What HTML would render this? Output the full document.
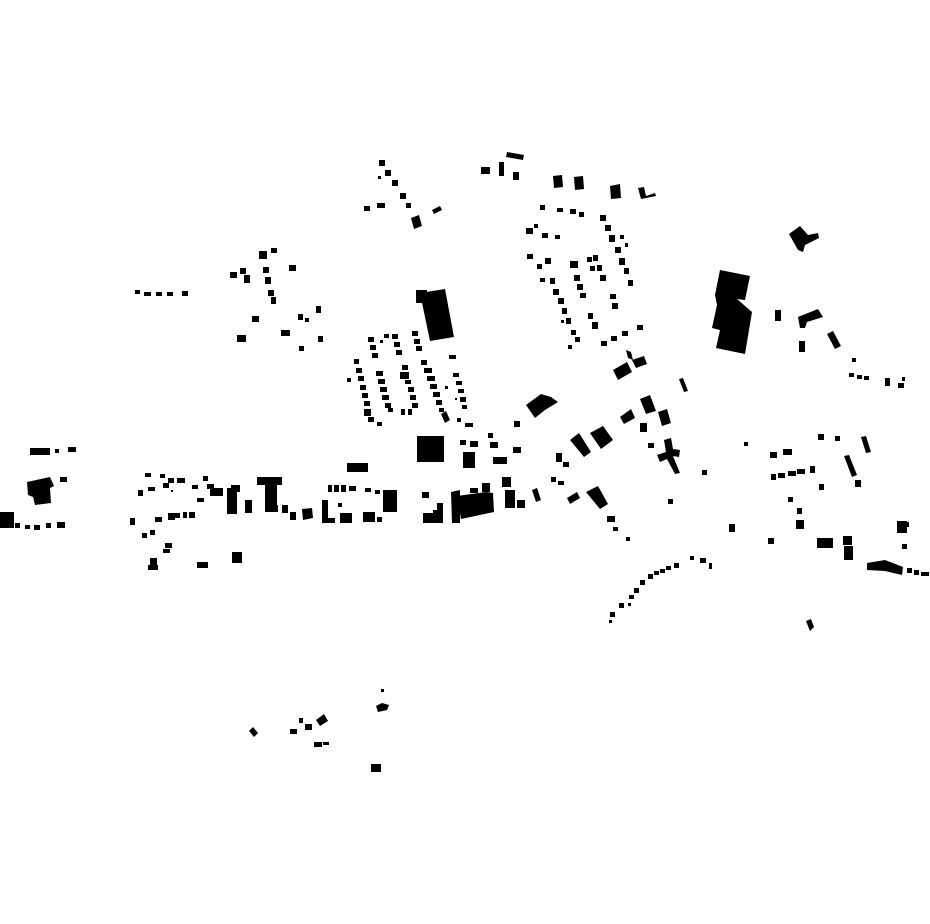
<!DOCTYPE html>
<html><head><meta charset="utf-8"><style>html,body{margin:0;padding:0;background:#fff}svg{display:block}</style></head>
<body>
<svg width="930" height="924" viewBox="0 0 930 924" xmlns="http://www.w3.org/2000/svg" fill="#000">
<!-- top center diagonal -->
<rect x="379" y="160" width="6" height="6"/><rect x="385" y="170" width="6" height="6"/><rect x="392" y="180" width="6" height="6"/><rect x="400" y="193" width="6" height="6"/><rect x="406" y="203" width="5" height="5"/>
<polygon points="411,218 419,215 422,226 414,229"/><rect x="364" y="206" width="6" height="5"/><rect x="377" y="203" width="8" height="5"/><polygon points="432,210 440,206 442,210 434,214"/><rect x="378" y="176" width="3" height="3"/>
<!-- top row -->
<rect x="481" y="167" width="9" height="7"/><rect x="499" y="162" width="5" height="14"/><polygon points="507,152 524,155 523,160 506,157"/><rect x="513" y="172" width="6" height="8"/>
<polygon points="553,176 562,175 563,187 554,188"/><polygon points="574,177 583,176 584,189 575,190"/><polygon points="610,186 620,184 621,198 611,199"/><polygon points="638,188 644,187 646,196 655,193 656,196 641,199"/>
<!-- cluster 520-660 -->
<rect x="540" y="205" width="5" height="5"/><rect x="557" y="208" width="6" height="4"/><rect x="570" y="209" width="6" height="5"/><rect x="579" y="212" width="5" height="5"/>
<rect x="526" y="228" width="7" height="6"/><rect x="534" y="224" width="4" height="4"/><rect x="542" y="233" width="6" height="5"/><rect x="555" y="235" width="5" height="4"/>
<rect x="600" y="215" width="6" height="6"/><rect x="605" y="225" width="6" height="6"/><rect x="609" y="235" width="6" height="7"/><rect x="615" y="247" width="6" height="6"/><rect x="619" y="258" width="6" height="7"/><rect x="624" y="268" width="5" height="6"/><rect x="628" y="280" width="5" height="6"/><rect x="620" y="235" width="4" height="4"/><rect x="625" y="243" width="3" height="4"/>
<rect x="527" y="254" width="6" height="5"/><rect x="537" y="264" width="5" height="5"/><rect x="545" y="258" width="6" height="6"/><rect x="540" y="278" width="5" height="4"/><rect x="550" y="278" width="5" height="6"/><rect x="553" y="289" width="6" height="6"/><rect x="558" y="298" width="6" height="6"/><rect x="562" y="308" width="5" height="6"/><rect x="566" y="318" width="5" height="6"/><rect x="571" y="330" width="5" height="5"/><rect x="561" y="320" width="3" height="3"/><rect x="568" y="345" width="4" height="4"/><rect x="575" y="337" width="5" height="5"/>
<rect x="570" y="261" width="8" height="7"/><rect x="574" y="275" width="6" height="6"/><rect x="577" y="284" width="6" height="6"/><rect x="580" y="293" width="6" height="5"/>
<rect x="587" y="257" width="5" height="5"/><rect x="593" y="255" width="5" height="6"/><rect x="590" y="266" width="5" height="5"/><rect x="597" y="265" width="5" height="6"/><rect x="600" y="275" width="6" height="6"/>
<rect x="610" y="294" width="6" height="5"/><rect x="612" y="303" width="6" height="6"/><rect x="588" y="313" width="5" height="6"/><rect x="592" y="322" width="6" height="7"/>
<rect x="601" y="341" width="6" height="5"/><rect x="611" y="336" width="6" height="5"/><rect x="622" y="331" width="6" height="5"/><rect x="637" y="325" width="6" height="5"/>
<polygon points="626,350 631,352 633,360 628,358"/><polygon points="632,360 644,356 647,364 636,368"/><polygon points="613,370 627,362 632,372 618,380"/>
<!-- big building right -->
<polygon points="720,270 750,276 745,300 737,299 752,312 745,354 716,348 720,330 712,328 717,305 715,295"/>
<polygon points="789,234 800,226 808,235 818,233 819,238 805,245 803,252 798,250"/>
<rect x="775" y="310" width="6" height="11"/><polygon points="798,317 818,309 823,317 807,322 805,328 800,328"/><rect x="799" y="341" width="6" height="11"/><polygon points="827,334 833,331 841,346 835,349"/>
<rect x="852" y="358" width="4" height="4"/><rect x="849" y="373" width="5" height="4"/><rect x="857" y="375" width="5" height="4"/><rect x="864" y="376" width="5" height="4"/><rect x="885" y="378" width="5" height="8"/><rect x="898" y="383" width="6" height="5"/><rect x="902" y="377" width="3" height="4"/>
<polygon points="679,379 683,378 688,391 684,392"/>
<!-- left top cluster -->
<rect x="135" y="290" width="5" height="4"/><rect x="144" y="292" width="7" height="4"/><rect x="156" y="292" width="6" height="4"/><rect x="167" y="292" width="6" height="4"/><rect x="182" y="291" width="6" height="5"/>
<rect x="259" y="251" width="8" height="8"/><rect x="271" y="248" width="6" height="5"/><rect x="263" y="267" width="6" height="6"/><rect x="265" y="277" width="6" height="7"/><rect x="268" y="290" width="6" height="6"/><rect x="271" y="297" width="5" height="7"/>
<rect x="230" y="272" width="7" height="6"/><rect x="240" y="268" width="6" height="6"/><rect x="244" y="275" width="6" height="8"/><rect x="289" y="265" width="7" height="6"/><rect x="252" y="316" width="7" height="6"/><rect x="281" y="330" width="9" height="6"/><rect x="237" y="335" width="9" height="7"/><rect x="298" y="314" width="5" height="6"/><rect x="305" y="318" width="4" height="4"/><rect x="316" y="306" width="5" height="7"/><rect x="318" y="336" width="5" height="6"/><rect x="299" y="346" width="5" height="5"/>
<!-- center cluster -->
<rect x="416" y="290" width="11" height="13"/><polygon points="420,293 445,289 454,337 430,341"/>
<rect x="354" y="359" width="5" height="5"/><rect x="356" y="368" width="6" height="5"/><rect x="358" y="376" width="6" height="5"/><rect x="360" y="385" width="6" height="5"/><rect x="362" y="393" width="6" height="5"/><rect x="364" y="401" width="6" height="5"/><rect x="364" y="409" width="7" height="7"/><rect x="368" y="417" width="6" height="5"/><rect x="377" y="422" width="5" height="4"/><rect x="347" y="378" width="4" height="4"/>
<rect x="368" y="337" width="6" height="5"/><rect x="370" y="345" width="6" height="5"/><rect x="372" y="353" width="6" height="5"/><rect x="376" y="371" width="7" height="5"/><rect x="378" y="379" width="7" height="5"/><rect x="380" y="387" width="7" height="5"/><rect x="382" y="395" width="7" height="5"/><rect x="385" y="403" width="6" height="5"/><rect x="388" y="408" width="5" height="4"/><rect x="380" y="340" width="3" height="3"/><rect x="384" y="334" width="5" height="4"/>
<rect x="392" y="334" width="6" height="5"/><rect x="394" y="342" width="6" height="5"/><rect x="396" y="350" width="6" height="5"/>
<rect x="402" y="365" width="6" height="5"/><rect x="400" y="372" width="9" height="7"/><rect x="405" y="380" width="6" height="4"/><rect x="408" y="387" width="6" height="5"/><rect x="410" y="395" width="6" height="5"/><rect x="412" y="403" width="6" height="5"/><rect x="401" y="409" width="4" height="6"/><rect x="408" y="409" width="4" height="6"/>
<rect x="412" y="331" width="6" height="5"/><rect x="414" y="339" width="6" height="5"/><rect x="416" y="346" width="6" height="5"/><rect x="421" y="360" width="6" height="5"/><rect x="424" y="368" width="8" height="5"/><rect x="427" y="376" width="8" height="5"/><rect x="430" y="384" width="7" height="5"/><rect x="433" y="392" width="7" height="5"/><rect x="436" y="400" width="6" height="5"/><rect x="439" y="408" width="5" height="4"/><rect x="445" y="386" width="3" height="3"/>
<rect x="449" y="355" width="7" height="4"/><rect x="453" y="373" width="6" height="4"/><rect x="456" y="381" width="6" height="4"/><rect x="458" y="389" width="6" height="4"/><rect x="460" y="397" width="6" height="5"/><rect x="462" y="405" width="5" height="4"/><rect x="455" y="398" width="2" height="2"/>
<polygon points="441,414 446,411 450,420 445,423"/><rect x="457" y="418" width="4" height="4"/><rect x="465" y="423" width="8" height="4"/>
<!-- big square and nearby -->
<rect x="417" y="436" width="27" height="26"/><rect x="460" y="440" width="6" height="5"/><rect x="470" y="441" width="8" height="6"/><rect x="490" y="442" width="8" height="6"/><rect x="513" y="447" width="8" height="6"/><rect x="463" y="452" width="12" height="16"/><rect x="493" y="457" width="14" height="7"/><rect x="488" y="433" width="5" height="5"/><rect x="514" y="421" width="6" height="6"/>
<rect x="347" y="463" width="21" height="9"/>
<!-- main street -->
<rect x="145" y="473" width="6" height="4"/><rect x="160" y="474" width="5" height="4"/><rect x="163" y="483" width="6" height="5"/><rect x="148" y="487" width="7" height="4"/><rect x="138" y="490" width="5" height="6"/><rect x="168" y="478" width="6" height="5"/><rect x="177" y="478" width="8" height="5"/><rect x="171" y="490" width="2" height="2"/>
<rect x="192" y="485" width="6" height="4"/><rect x="203" y="476" width="5" height="5"/><rect x="207" y="484" width="7" height="5"/><rect x="210" y="488" width="13" height="8"/><rect x="197" y="498" width="7" height="4"/>
<rect x="227" y="488" width="10" height="26"/><rect x="231" y="485" width="9" height="7"/><rect x="245" y="500" width="7" height="13"/>
<rect x="257" y="477" width="25" height="8"/><rect x="265" y="484" width="12" height="21"/><rect x="265" y="505" width="13" height="7"/><rect x="282" y="505" width="6" height="8"/><rect x="290" y="512" width="6" height="8"/><polygon points="302,509 312,508 313,518 303,520"/>
<rect x="322" y="500" width="6" height="23"/><rect x="328" y="518" width="7" height="5"/><rect x="338" y="503" width="4" height="4"/><rect x="340" y="513" width="12" height="10"/><rect x="363" y="512" width="12" height="10"/><rect x="377" y="517" width="5" height="5"/>
<rect x="328" y="485" width="4" height="7"/><rect x="334" y="485" width="5" height="7"/><rect x="341" y="485" width="5" height="7"/><rect x="349" y="486" width="7" height="5"/><rect x="365" y="488" width="6" height="4"/><rect x="375" y="490" width="5" height="4"/><rect x="383" y="490" width="14" height="22"/>
<rect x="422" y="492" width="7" height="6"/><rect x="423" y="513" width="10" height="10"/><rect x="433" y="510" width="10" height="13"/><rect x="437" y="503" width="6" height="9"/>
<polygon points="451,492 460,490 460,523 452,523"/><polygon points="457,496 486,492 493,493 494,512 461,519"/><rect x="482" y="483" width="8" height="9"/><rect x="470" y="488" width="8" height="5"/>
<rect x="502" y="477" width="9" height="10"/><rect x="505" y="490" width="10" height="18"/><rect x="517" y="500" width="8" height="8"/><polygon points="532,490 537,488 541,500 536,502"/>
<rect x="130" y="518" width="5" height="7"/><rect x="155" y="517" width="7" height="5"/><rect x="168" y="513" width="7" height="7"/><rect x="175" y="513" width="5" height="5"/><rect x="183" y="512" width="4" height="6"/><rect x="189" y="512" width="6" height="6"/>
<rect x="142" y="533" width="5" height="5"/><rect x="150" y="530" width="5" height="5"/><rect x="165" y="543" width="7" height="5"/><rect x="163" y="549" width="7" height="4"/><rect x="150" y="558" width="7" height="7"/><rect x="148" y="565" width="10" height="5"/><rect x="197" y="562" width="11" height="6"/><rect x="232" y="552" width="10" height="11"/>
<!-- far left -->
<rect x="30" y="448" width="20" height="7"/><rect x="55" y="449" width="4" height="4"/><rect x="68" y="447" width="8" height="5"/><rect x="60" y="477" width="7" height="5"/>
<polygon points="27,482 50,477 54,486 50,488 51,503 35,505 33,497 28,495"/>
<rect x="0" y="512" width="14" height="16"/><rect x="15" y="523" width="5" height="5"/><rect x="25" y="525" width="5" height="4"/><rect x="34" y="525" width="6" height="5"/><rect x="46" y="523" width="5" height="5"/><rect x="57" y="522" width="8" height="6"/>
<!-- right of center -->
<polygon points="526,405 541,394 551,397 558,402 545,410 535,418"/>
<polygon points="590,433 603,426 613,440 601,449"/><polygon points="570,440 579,433 591,452 584,457"/><rect x="556" y="453" width="6" height="9"/><rect x="563" y="462" width="6" height="5"/><rect x="551" y="477" width="5" height="5"/><rect x="558" y="481" width="6" height="4"/>
<polygon points="640,399 650,395 656,411 646,414"/><polygon points="658,412 667,409 671,423 662,426"/><polygon points="620,417 631,409 635,418 624,424"/><rect x="640" y="423" width="7" height="9"/><rect x="648" y="443" width="6" height="5"/>
<polygon points="664,440 671,438 673,449 680,450 679,457 673,456 680,473 675,474 667,459 660,462 657,455 666,452"/>
<rect x="744" y="442" width="4" height="4"/><rect x="702" y="470" width="5" height="5"/><rect x="668" y="499" width="5" height="5"/>
<polygon points="567,498 577,492 580,498 570,504"/><polygon points="586,492 598,486 608,504 600,509"/><rect x="607" y="516" width="8" height="6"/><rect x="613" y="527" width="5" height="4"/><rect x="626" y="537" width="4" height="4"/>
<rect x="729" y="524" width="6" height="8"/><rect x="768" y="538" width="6" height="6"/>
<!-- right cluster -->
<rect x="770" y="452" width="7" height="6"/><rect x="783" y="449" width="9" height="6"/><rect x="818" y="434" width="6" height="6"/><rect x="835" y="436" width="5" height="5"/><polygon points="861,437 866,436 871,452 866,453"/>
<rect x="771" y="474" width="5" height="6"/><rect x="778" y="473" width="7" height="5"/><rect x="788" y="471" width="8" height="5"/><rect x="797" y="469" width="8" height="5"/><rect x="810" y="466" width="5" height="7"/><rect x="819" y="484" width="5" height="6"/>
<polygon points="844,456 849,455 857,475 852,477"/><rect x="855" y="480" width="6" height="7"/><rect x="788" y="497" width="5" height="5"/><rect x="797" y="508" width="5" height="6"/><rect x="796" y="520" width="8" height="9"/>
<rect x="817" y="538" width="16" height="10"/><rect x="843" y="536" width="9" height="9"/><rect x="844" y="546" width="9" height="14"/><rect x="897" y="521" width="10" height="12"/><rect x="905" y="522" width="4" height="5"/><rect x="902" y="544" width="5" height="5"/>
<polygon points="867,563 885,560 903,567 902,575 885,571 867,570"/><rect x="907" y="568" width="5" height="5"/><rect x="914" y="570" width="5" height="5"/><rect x="921" y="572" width="8" height="4"/>
<!-- curve -->
<rect x="610" y="612" width="5" height="5"/><rect x="609" y="620" width="3" height="3"/><rect x="619" y="603" width="5" height="5"/><rect x="628" y="603" width="3" height="3"/><rect x="629" y="595" width="5" height="4"/><rect x="634" y="588" width="5" height="5"/><rect x="640" y="580" width="5" height="5"/><rect x="648" y="574" width="5" height="5"/><rect x="654" y="571" width="5" height="4"/><rect x="660" y="569" width="5" height="4"/><rect x="666" y="566" width="5" height="4"/><rect x="674" y="563" width="5" height="5"/><rect x="690" y="556" width="4" height="4"/><rect x="700" y="558" width="6" height="5"/><rect x="709" y="563" width="3" height="6"/>
<polygon points="806,621 811,619 814,627 810,631"/>
<!-- bottom -->
<polygon points="249,731 253,727 258,733 254,737"/><rect x="290" y="729" width="7" height="5"/><rect x="299" y="718" width="4" height="5"/><rect x="305" y="724" width="7" height="6"/><polygon points="316,720 324,714 328,721 320,726"/><rect x="314" y="742" width="8" height="5"/><rect x="323" y="742" width="6" height="3"/><rect x="381" y="689" width="3" height="3"/><polygon points="376,706 382,703 389,705 387,710 378,712"/><rect x="371" y="764" width="10" height="8"/>
</svg>
</body></html>
